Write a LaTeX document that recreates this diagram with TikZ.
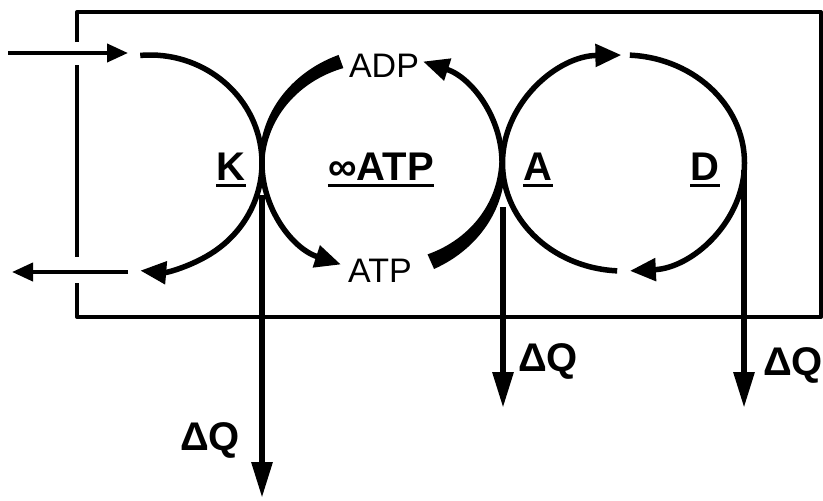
\documentclass[tikz,border=0pt]{standalone}
\usepackage{fontspec}
\setmainfont{Liberation Sans}
\usetikzlibrary{arrows.meta}

\tikzset{
  flow/.style={line width=2.75pt, -{Triangle[length=13pt, width=11pt]}},
  heat/.style={line width=3pt, -{Triangle[length=18pt, width=10pt]}},
  side/.style={line width=2pt, -{Triangle[length=10.5pt, width=9pt]}},
  pool/.style={font=\fontsize{20}{24}\selectfont\bfseries, anchor=base, inner sep=0pt},
  nucl/.style={font=\fontsize{17}{20}\selectfont, inner sep=0pt},
  dq/.style={font=\fontsize{20}{24}\selectfont\bfseries, inner sep=0pt},
  uline/.style={line width=1.5pt},
}

\begin{document}
\begin{tikzpicture}[x=0.5pt, y=0.5pt, line join=round]
  \useasboundingbox (0,0) rectangle (823,500);

  % box, open where the outer arrows pass
  \draw[line width=2pt] (77,458) -- (77,488) -- (821,488) -- (821,183) -- (77,183) -- (77,217);
  \draw[line width=2pt] (77,435) -- (77,243);

  % centres of the three cycles
  \coordinate (kc) at (150,337);
  \coordinate (mc) at (382,337);
  \coordinate (ac) at (623.5,337);

  % in and out
  \coordinate (in0) at (8,447);
  \coordinate (in1) at (128,447);
  \coordinate (out0) at (128,228);
  \coordinate (out1) at (12,228);
  \draw[side] (in0) -- (in1);
  \draw[side] (out0) -- (out1);

  % K cycle
  \draw[flow] (kc) ++(95:112 and 108) arc[start angle=95, end angle=-95, x radius=112, y radius=108];

  % ATP pool: thick parts
  \fill plot[domain=110:178, samples=30] ({382+(122.5+4.5*(178-\x)/68)*cos(\x)}, {337+(110.5+4.5*(178-\x)/68)*sin(\x)})
     -- plot[domain=178:110, samples=30] ({382+(117.5-4.5*(178-\x)/68)*cos(\x)}, {337+(105.5-4.5*(178-\x)/68)*sin(\x)}) -- cycle;
  \fill plot[domain=-66:-2, samples=30] ({382+(123+5*(-2-\x)/64)*cos(\x)}, {337+(111+5*(-2-\x)/64)*sin(\x)})
     -- plot[domain=-2:-66, samples=30] ({382+(117-5*(-2-\x)/64)*cos(\x)}, {337+(105-5*(-2-\x)/64)*sin(\x)}) -- cycle;
  % ATP pool: thin parts
  \draw[flow] (mc) ++(176:120 and 108) arc[start angle=176, end angle=250, x radius=120, y radius=108];
  \draw[flow] (mc) ++(-4:120 and 108) arc[start angle=-4, end angle=70, x radius=120, y radius=108];

  % A--D cycle
  \draw[flow] (ac) ++(267:121 and 108) arc[start angle=267, end angle=91, x radius=121, y radius=108];
  \draw[flow] (ac) ++(87:121 and 108) arc[start angle=87, end angle=-87, x radius=121, y radius=108];

  % heat out
  \coordinate (k0) at (262,305);
  \coordinate (k1) at (262,2);
  \coordinate (a0) at (503,293);
  \coordinate (a1) at (503,92);
  \coordinate (d0) at (744,330);
  \coordinate (d1) at (744,92);
  \draw[heat] (k0) -- (k1);
  \draw[heat] (a0) -- (a1);
  \draw[heat] (d0) -- (d1);

  % labels
  \node[pool] (lK) at (231,320) {K};
  \node[pool] (lATP) at (381,320) {∞ATP};
  \node[pool] (lA) at (538,320) {A};
  \node[pool] (lD) at (705,320) {D};
  \foreach \n in {lK,lATP,lA,lD}
    \draw[uline] ([yshift=-2.5pt]\n.base west) -- ([yshift=-2.5pt]\n.base east);

  \node[nucl] (adp) at (384,434) {ADP};
  \node[nucl] (atp) at (380,229) {ATP};

  \node[dq] (q1) at (210,60) {ΔQ};
  \node[dq] (q2) at (548,139) {ΔQ};
  \node[dq] (q3) at (793,135) {ΔQ};
\end{tikzpicture}
\end{document}
